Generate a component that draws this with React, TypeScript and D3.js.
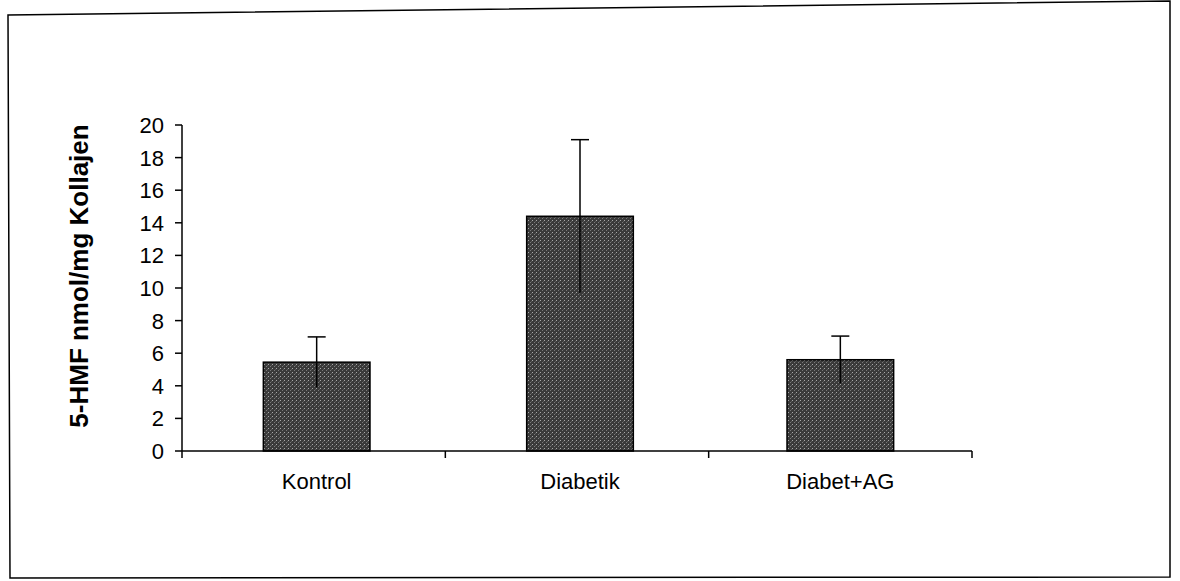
import React from "react";
import * as d3 from "d3";

const categories = ["Kontrol", "Diabetik", "Diabet+AG"];
const values = [5.45, 14.4, 5.6];
const errors = [1.55, 4.7, 1.45];
const yTicks = [0, 2, 4, 6, 8, 10, 12, 14, 16, 18, 20];
const yLabel = "5-HMF nmol/mg Kollajen";

export default function App() {
  const W = 1180;
  const H = 581;
  const x0 = 182;
  const x1 = 972;
  const yTop = 125;
  const yBot = 451;
  const x = d3.scaleBand<string>().domain(categories).range([x0, x1]).padding(0);
  const y = d3.scaleLinear().domain([0, 20]).range([yBot, yTop]);
  const bw = x.bandwidth() * 0.405;
  const font = "Arial, 'Liberation Sans', sans-serif";
  const boundaries = [x0, ...categories.map((c) => (x(c) as number) + x.bandwidth())];

  return (
    <svg
      width={W}
      height={H}
      style={{ position: "absolute", left: 0, top: 0, background: "#fff" }}
    >
      <defs>
        <pattern id="tex" width="4" height="4" patternUnits="userSpaceOnUse">
          <rect width="4" height="4" fill="#3a3a3a" />
          <rect x="0" y="0" width="1" height="1" fill="#a8a8a8" />
          <rect x="2" y="2" width="1" height="1" fill="#7a7a7a" />
          <rect x="3" y="1" width="1" height="1" fill="#5a5a5a" />
        </pattern>
      </defs>
      {/* outer frame */}
      <path d="M8,15 L1170,1 L1170,577 L10,578 Z" fill="none" stroke="#000" strokeWidth={1.5} />

      {/* bars */}
      {categories.map((c, i) => {
        const cx = (x(c) as number) + x.bandwidth() / 2 + (i === 0 ? 3 : i === 1 ? 3 : 0);
        return (
          <g key={c}>
            <rect
              x={cx - bw / 2}
              y={y(values[i])}
              width={bw}
              height={yBot - y(values[i])}
              fill="url(#tex)"
              stroke="#000"
              strokeWidth={1.5}
            />
            <line
              x1={cx}
              x2={cx}
              y1={y(values[i] - errors[i])}
              y2={y(values[i] + errors[i])}
              stroke="#000"
              strokeWidth={1.5}
            />
            <line
              x1={cx - 9}
              x2={cx + 9}
              y1={y(values[i] + errors[i])}
              y2={y(values[i] + errors[i])}
              stroke="#000"
              strokeWidth={1.5}
            />
            <text
              x={cx}
              y={489}
              textAnchor="middle"
              fontFamily={font}
              fontSize={22}
              fill="#000"
            >
              {c}
            </text>
          </g>
        );
      })}

      {/* y axis */}
      <line x1={x0} x2={x0} y1={yTop} y2={458} stroke="#000" strokeWidth={1.5} />
      {yTicks.map((t) => (
        <g key={t}>
          <line x1={175} x2={x0} y1={y(t)} y2={y(t)} stroke="#000" strokeWidth={1.5} />
          <text
            x={164}
            y={y(t)}
            dy="0.36em"
            textAnchor="end"
            fontFamily={font}
            fontSize={22}
            fill="#000"
          >
            {t}
          </text>
        </g>
      ))}

      {/* x axis */}
      <line x1={x0} x2={x1} y1={yBot} y2={yBot} stroke="#000" strokeWidth={1.5} />
      {boundaries.slice(1).map((b, i) => (
        <line key={i} x1={b} x2={b} y1={yBot} y2={458} stroke="#000" strokeWidth={1.5} />
      ))}

      {/* y label */}
      <text
        transform={`translate(88,${(yTop + yBot) / 2 - 12}) rotate(-90)`}
        textAnchor="middle"
        fontFamily={font}
        fontWeight="bold"
        fontSize={26}
        fill="#000"
      >
        {yLabel}
      </text>
    </svg>
  );
}
